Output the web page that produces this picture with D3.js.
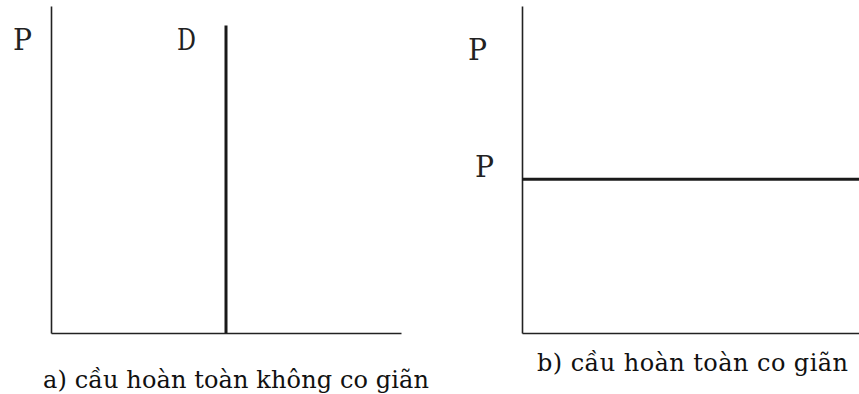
<!DOCTYPE html>
<html>
<head>
<meta charset="utf-8">
<script src="https://cdn.jsdelivr.net/npm/d3@7"></script>
<style>
  body { margin: 0; background: #fff; }
  .axis path { stroke: #222; stroke-width: 1.6; }
</style>
</head>
<body>
<div id="chart"></div>
<script>
// panel a: perfectly inelastic demand (vertical line at fixed quantity)
var inelasticQ = [5, 5];
var inelasticP = [0, 9.4];
// panel b: perfectly elastic demand (horizontal line at fixed price)
var elasticQ = [0, 10];
var elasticP = [4.7, 4.7];

var captions = ["a) cầu hoàn toàn không co giãn", "b) cầu hoàn toàn co giãn"];

var W = 859, H = 394;

var svg = d3.select("#chart").append("svg")
    .attr("width", W)
    .attr("height", H);

// scales per panel
var xa = d3.scaleLinear().domain([0, 10]).range([51, 401]);
var ya = d3.scaleLinear().domain([0, 10]).range([333, 6]);
var xb = d3.scaleLinear().domain([0, 10]).range([522, 859]);
var yb = d3.scaleLinear().domain([0, 10]).range([333, 6]);

function drawAxes(x, y) {
    svg.append("g")
        .attr("class", "axis")
        .attr("transform", "translate(" + x.range()[0] + ",0)")
        .call(d3.axisLeft(y).ticks(0).tickSizeOuter(0));
    svg.append("g")
        .attr("class", "axis")
        .attr("transform", "translate(0," + y.range()[0] + ")")
        .call(d3.axisBottom(x).ticks(0).tickSizeOuter(0));
}

drawAxes(xa, ya);
drawAxes(xb, yb);

var line = function(x, y) {
    return d3.line().x(d => x(d[0])).y(d => y(d[1]));
};

svg.append("path")
    .datum(d3.zip(inelasticQ, inelasticP))
    .attr("d", line(xa, ya))
    .attr("fill", "none")
    .attr("stroke", "#1a1a1a")
    .attr("stroke-width", 3);

svg.append("path")
    .datum(d3.zip(elasticQ, elasticP))
    .attr("d", line(xb, yb))
    .attr("fill", "none")
    .attr("stroke", "#1a1a1a")
    .attr("stroke-width", 3);

// labels (slab serif to look like the original courier letters)
function label(x, y, t) {
    svg.append("text")
        .attr("x", x).attr("y", y)
        .attr("font-family", "DejaVu Serif")
        .attr("font-size", 29)
        .attr("fill", "#222")
        .attr("textLength", 19).attr("lengthAdjust", "spacingAndGlyphs")
        .text(t);
}
label(13, 50, "P");
label(xa(inelasticQ[0]) - 49, 50, "D");
label(468, 60, "P");
label(475, yb(elasticP[0]) - 2, "P");

// captions: spread letters out to the width of the original
function caption(x, y, w, t) {
    var txt = svg.append("text")
        .attr("x", x).attr("y", y)
        .attr("font-family", "DejaVu Serif")
        .attr("font-size", 24)
        .attr("fill", "#111")
        .text(t);
    var natural = txt.node().getComputedTextLength();
    var gap = (w - natural) / (t.length - 1);
    txt.attr("letter-spacing", gap);
}
caption(43, 388, 386, captions[0]);
caption(537, 371, 311, captions[1]);
</script>
</body>
</html>
